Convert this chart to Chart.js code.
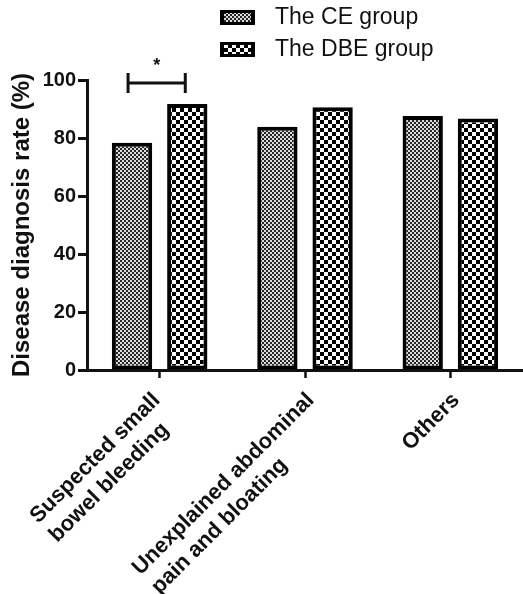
<!DOCTYPE html>
<html>
<head>
<meta charset="utf-8">
<script src="https://cdn.jsdelivr.net/npm/chart.js@4.4.1/dist/chart.umd.min.js"></script>
<style>
  html, body { margin: 0; padding: 0; background: #fff; }
  #wrap { position: relative; width: 523px; height: 594px; }
</style>
</head>
<body>
<div id="wrap"><canvas id="chart" width="523" height="594"></canvas></div>
<script>
// Diagnosis rate (%) by indication, capsule endoscopy vs double-balloon enteroscopy
const categories = [
  ['Suspected small', 'bowel bleeding'],
  ['Unexplained abdominal', 'pain and bloating'],
  ['Others']
];
const seriesNames = ['The CE group', 'The DBE group'];
const ceRates  = [78.4, 83.9, 87.6];
const dbeRates = [91.7, 90.6, 86.7];
const yTicks = [0, 20, 40, 60, 80, 100];

// significance marker between the two bars of the first indication
const sigCategory = 0;
const sigLevel = 99;
const sigText = '*';

const FONT = '"Liberation Sans", Arial, Helvetica, sans-serif';
const LABEL_SIZE = 22;
const LABEL_LINE = 27;
const LABEL_ANGLE = Math.PI / 4;

function makePattern(size, draw) {
  const c = document.createElement('canvas');
  c.width = size; c.height = size;
  const g = c.getContext('2d');
  draw(g);
  return document.getElementById('chart').getContext('2d').createPattern(c, 'repeat');
}

// fine grey checker
const cePattern = makePattern(4, g => {
  g.fillStyle = '#dcdcdc'; g.fillRect(0, 0, 4, 4);
  g.fillStyle = '#262626'; g.fillRect(0, 0, 2, 2); g.fillRect(2, 2, 2, 2);
});
// coarse black/white checker
const dbePattern = makePattern(8, g => {
  g.fillStyle = '#ffffff'; g.fillRect(0, 0, 8, 8);
  g.fillStyle = '#000000'; g.fillRect(0, 0, 4, 4); g.fillRect(4, 4, 4, 4);
});

// category labels: left-aligned lines rotated 45°, block hung under its tick
function drawCategoryLabels(chart) {
  const ctx = chart.ctx;
  const xs = chart.scales.x;
  const c = Math.cos(LABEL_ANGLE), s = Math.sin(LABEL_ANGLE);
  const capH = LABEL_SIZE * 0.716;
  ctx.save();
  ctx.font = 'bold ' + LABEL_SIZE + 'px ' + FONT;
  ctx.fillStyle = '#111';
  ctx.textAlign = 'left';
  ctx.textBaseline = 'alphabetic';
  chart.data.labels.forEach((lab, i) => {
    const lines = Array.isArray(lab) ? lab : [lab];
    // extent of the rotated block in screen space
    let maxX = -Infinity, minY = Infinity;
    lines.forEach((t, k) => {
      const w = ctx.measureText(t).width;
      [[0, 0], [w, 0], [0, capH], [w, capH]].forEach(([u, v]) => {
        const vv = v + k * LABEL_LINE;
        maxX = Math.max(maxX, u * c + vv * s);
        minY = Math.min(minY, -u * s + vv * c);
      });
    });
    const tx = xs.getPixelForTick(i) + 10 - maxX;
    const ty = xs.top + 20 - minY;
    ctx.save();
    ctx.translate(tx, ty);
    ctx.rotate(-LABEL_ANGLE);
    lines.forEach((t, k) => ctx.fillText(t, 0, capH + k * LABEL_LINE));
    ctx.restore();
  });
  ctx.restore();
}

const overlay = {
  id: 'overlay',
  afterDraw(chart) {
    const ctx = chart.ctx;
    const y = chart.scales.y;
    drawCategoryLabels(chart);
    ctx.save();

    // legend, stacked at top right
    const legendX = 220, legendY = [10, 42];
    chart.data.datasets.forEach((ds, i) => {
      const by = legendY[i];
      ctx.fillStyle = '#000';
      ctx.fillRect(legendX, by, 35, 15);
      ctx.fillStyle = ds.backgroundColor;
      ctx.fillRect(legendX + 4, by + 3, 27, 9);
      ctx.fillStyle = '#111';
      ctx.font = '23px ' + FONT;
      ctx.textAlign = 'left';
      ctx.textBaseline = 'middle';
      ctx.fillText(ds.label, 275, by + 8);
    });

    // significance bracket
    const x1 = chart.getDatasetMeta(0).data[sigCategory].x - 4;
    const x2 = chart.getDatasetMeta(1).data[sigCategory].x - 2;
    const ly = y.getPixelForValue(sigLevel);
    ctx.strokeStyle = '#111';
    ctx.lineWidth = 3;
    ctx.lineCap = 'butt';
    ctx.beginPath();
    ctx.moveTo(x1, ly); ctx.lineTo(x2, ly);
    ctx.moveTo(x1, ly - 10); ctx.lineTo(x1, ly + 10);
    ctx.moveTo(x2, ly - 10); ctx.lineTo(x2, ly + 10);
    ctx.stroke();
    ctx.fillStyle = '#111';
    ctx.font = 'bold 18px ' + FONT;
    ctx.textAlign = 'center';
    ctx.textBaseline = 'middle';
    ctx.fillText(sigText, (x1 + x2) / 2, ly - 17);

    ctx.restore();
  }
};

new Chart(document.getElementById('chart'), {
  type: 'bar',
  data: {
    labels: categories,
    datasets: [
      { label: seriesNames[0], data: ceRates, backgroundColor: cePattern,
        borderColor: '#000', borderWidth: 4, borderSkipped: false },
      { label: seriesNames[1], data: dbeRates, backgroundColor: dbePattern,
        borderColor: '#000', borderWidth: 4, borderSkipped: false }
    ]
  },
  options: {
    responsive: false,
    animation: false,
    events: [],
    categoryPercentage: 0.76,
    barPercentage: 0.73,
    layout: { padding: { top: 80, right: 0, bottom: 0, left: 0 } },
    plugins: {
      legend: { display: false },
      tooltip: { enabled: false }
    },
    scales: {
      x: {
        offset: true,
        grid: {
          offset: false,
          drawOnChartArea: false,
          drawTicks: true,
          tickLength: 8,
          tickWidth: 2.5,
          tickColor: '#111'
        },
        border: { display: true, color: '#111', width: 3 },
        ticks: { display: false, autoSkip: false },
        afterFit(scale) { scale.height = 224; }
      },
      y: {
        min: 0,
        max: 100,
        afterBuildTicks(scale) { scale.ticks = yTicks.map(v => ({ value: v })); },
        grid: {
          drawOnChartArea: false,
          drawTicks: true,
          tickLength: 9,
          tickWidth: 3,
          tickColor: '#111'
        },
        border: { display: true, color: '#111', width: 3 },
        ticks: {
          color: '#111',
          font: { family: FONT, size: 20, weight: 'bold' },
          padding: 2
        },
        title: {
          display: true,
          text: 'Disease diagnosis rate (%)',
          color: '#111',
          font: { family: FONT, size: 24, weight: 'bold' },
          padding: { top: 8, bottom: 0 }
        },
        afterFit(scale) { scale.width = 87; }
      }
    }
  },
  plugins: [overlay]
});
</script>
</body>
</html>
